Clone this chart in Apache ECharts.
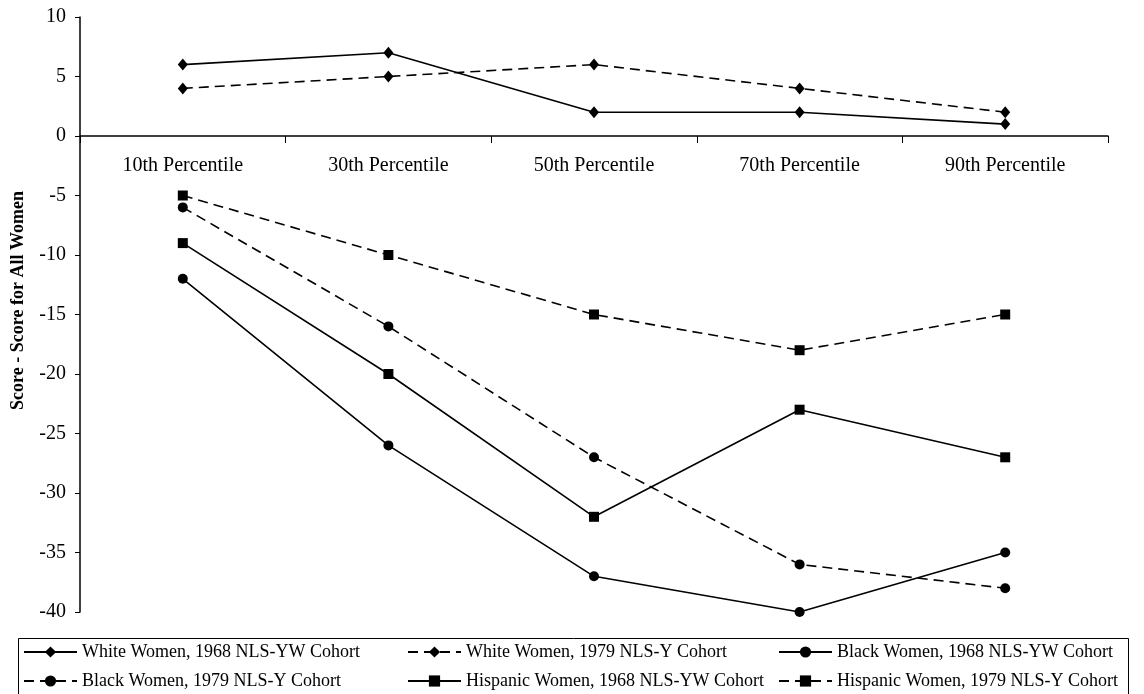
<!DOCTYPE html>
<html><head><meta charset="utf-8">
<script src="https://cdn.jsdelivr.net/npm/echarts@6/dist/echarts.min.js"></script>
<style>html,body{margin:0;padding:0;background:#fff}#c{width:1144px;height:694px}</style>
</head><body><div id="c"></div>
<script>
const categories = ['10th Percentile','30th Percentile','50th Percentile','70th Percentile','90th Percentile'];
const white1968 = [6, 7, 2, 2, 1];
const white1979 = [4, 5, 6, 4, 2];
const black1968 = [-12, -26, -37, -40, -35];
const black1979 = [-6, -16, -27, -36, -38];
const hisp1968 = [-9, -20, -32, -23, -27];
const hisp1979 = [-5, -10, -15, -18, -15];
const seriesNames = ['White Women, 1968 NLS-YW Cohort','White Women, 1979 NLS-Y Cohort','Black Women, 1968 NLS-YW Cohort','Black Women, 1979 NLS-Y Cohort','Hispanic Women, 1968 NLS-YW Cohort','Hispanic Women, 1979 NLS-Y Cohort'];
const seriesData = [white1968, white1979, black1968, black1979, hisp1968, hisp1979];
const symbols = ['diamond','diamond','circle','circle','rect','rect'];
const dashed = [false,true,false,true,false,true];

const FONT = "'Liberation Serif', 'Times New Roman', serif";
const chart = echarts.init(document.getElementById('c'), null, {renderer:'canvas'});

const series = seriesNames.map((n,i)=>({
  name:n, type:'line', data:seriesData[i], symbol:symbols[i],
  symbolSize: symbols[i]==='diamond' ? [10,12] : 10,
  showAllSymbol:true, animation:false,
  lineStyle:{color:'#000', width:1.6, type: dashed[i] ? [10,6] : 'solid'},
  itemStyle:{color:'#000'}
}));

const legendPos = [[23,643],[407,643],[778,643],[23,672],[407,672],[778,672]];
const legends = seriesNames.map((n,i)=>({
  data:[n], left:legendPos[i][0], top:legendPos[i][1], padding:0,
  itemWidth:53, itemHeight:14, itemGap:0,
  textStyle:{fontFamily:FONT, fontSize:18, color:'#000'},
  selectedMode:false
}));

chart.setOption({
  backgroundColor:'#fff',
  animation:false,
  grid:{left:80, right:36, top:17, bottom:82, containLabel:false},
  legend: legends,
  graphic:[{type:'rect', shape:{x:18.5, y:638.5, width:1110, height:70}, style:{fill:'none', stroke:'#000', lineWidth:1}}],
  xAxis:{type:'category', data:categories, boundaryGap:true, position:'bottom', offset:-476,
    axisLine:{onZero:false, lineStyle:{color:'#000', width:1.5}},
    axisTick:{show:true, length:7, lineStyle:{color:'#000'}},
    axisLabel:{fontFamily:FONT, fontSize:20, color:'#000', margin:20},
    splitLine:{show:false}},
  yAxis:{type:'value', min:-40, max:10, interval:5,
    name:'Score - Score for All Women', nameLocation:'middle', nameGap:53,
    nameTextStyle:{fontFamily:FONT, fontSize:18, fontWeight:'bold', color:'#000', padding:[0,0,0,28]},
    axisLine:{show:true, lineStyle:{color:'#000', width:1.5}},
    axisTick:{show:true, length:5, lineStyle:{color:'#000'}},
    axisLabel:{fontFamily:FONT, fontSize:20, color:'#000', margin:14},
    splitLine:{show:false}},
  series: series
});
</script></body></html>
